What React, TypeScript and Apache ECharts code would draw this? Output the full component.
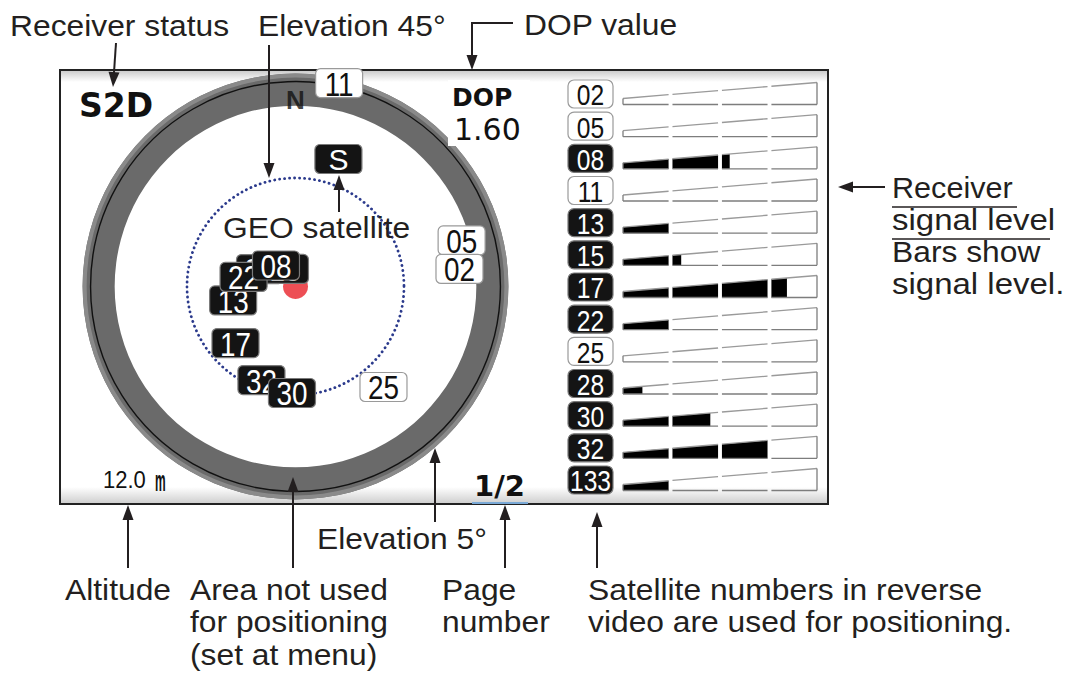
import React, { useEffect, useRef } from "react";
import * as echarts from "echarts";

// ---------- data ----------
// Sky plot: satellites drawn in painting order (later ones on top)
const skySatIds = ["13", "28", "15", "22", "08", "17", "32", "30", "11", "05", "02", "25", "S"];
const skyElevation = [63.5, 73.6, 81.5, 68.1, 78.1, 55.8, 48.7, 45.8, 3.7, 18.5, 21.6, 34.6, 34.2];
const skyAzimuth = [257.4, 296.2, 329.0, 280.4, 317.1, 226.7, 200.0, 181.9, 12.1, 74.5, 83.9, 138.8, 18.6];
const skyUsed = [true, true, true, true, true, true, true, true, false, false, false, false, true];

// Signal level panel
const signalSatIds = ["02", "05", "08", "11", "13", "15", "17", "22", "25", "28", "30", "32", "133"];
const signalLevels = [0, 0, 55, 0, 24, 30, 84.5, 24, 0, 10, 45, 75, 24];
const signalUsed = [false, false, true, false, true, true, true, true, false, true, true, true, true];
const signalSegments = [
  [0, 23.5],
  [25.5, 49],
  [51, 74.5],
  [76.5, 100],
];

// Sky plot reference elevations
const maskElevation = [15, 1.7]; // area not used for positioning (inner, outer)
const elevationCircles = [45, 5];
const ownPosition = [[90, 0]];
const northMark = [[12.6, 0]];

// Screen values
const receiverStatus = "S2D";
const dopLabel = "DOP";
const dopValue = "1.60";
const altitudeValue = "12.0";
const altitudeUnit = "m";
const pageNumber = "1/2";

// ---------- styling helpers ----------
const FONT = '"Liberation Sans", Arial, Helvetica, sans-serif';
const HEAVY = '"DejaVu Sans", "Liberation Sans", sans-serif';
const INK = "#231f20";

function arrow(x1: number, y1: number, x2: number, y2: number) {
  const dx = x2 - x1;
  const dy = y2 - y1;
  const L = Math.hypot(dx, dy);
  const ux = dx / L;
  const uy = dy / L;
  const len = 15;
  const hw = 5.5;
  const bx = x2 - ux * len;
  const by = y2 - uy * len;
  return [
    {
      type: "line",
      silent: true,
      z: 20,
      shape: { x1, y1, x2: bx + ux * 2, y2: by + uy * 2 },
      style: { stroke: INK, lineWidth: 2 },
    },
    {
      type: "polygon",
      silent: true,
      z: 20,
      shape: {
        points: [
          [x2, y2],
          [bx - uy * hw, by + ux * hw],
          [bx + uy * hw, by - ux * hw],
        ],
      },
      style: { fill: INK },
    },
  ];
}

function label(text: string, x: number, y: number, sx = 1.06, extra: any = {}) {
  return {
    type: "text",
    silent: true,
    z: 20,
    x,
    y,
    scaleX: sx,
    style: {
      text,
      fontFamily: FONT,
      fontSize: 30,
      fill: INK,
      align: "left",
      verticalAlign: "middle",
      ...extra,
    },
  };
}

function hline(x1: number, x2: number, y: number, color = INK, w = 2) {
  return {
    type: "line",
    silent: true,
    z: 20,
    shape: { x1, y1: y, x2, y2: y },
    style: { stroke: color, lineWidth: w },
  };
}

export default function App() {
  const ref = useRef<HTMLDivElement>(null);

  useEffect(() => {
    if (!ref.current) return;
    const chart = echarts.init(ref.current, undefined, { renderer: "svg" });

    const skyData = skySatIds.map((id, i) => [skyElevation[i], skyAzimuth[i], i]);
    const signalData = signalLevels.map((v, i) => [v, i]);

    const option: any = {
      animation: false,
      backgroundColor: "#ffffff",
      polar: { center: [295.5, 286.5], radius: 217 },
      angleAxis: {
        type: "value",
        min: 0,
        max: 360,
        startAngle: 90,
        clockwise: true,
        show: false,
        axisLine: { show: false },
        axisTick: { show: false },
        axisLabel: { show: false },
        splitLine: { show: false },
      },
      radiusAxis: {
        type: "value",
        min: 0,
        max: 90,
        inverse: true,
        show: false,
        axisLine: { show: false },
        axisTick: { show: false },
        axisLabel: { show: false },
        splitLine: { show: false },
      },
      grid: { left: 623, top: 77.9, width: 194, height: 418.2 },
      xAxis: { type: "value", min: 0, max: 100, show: false },
      yAxis: { type: "category", data: signalSatIds, inverse: true, show: false },
      series: [
        // gray mask ring (area not used for positioning)
        {
          type: "custom",
          coordinateSystem: "polar",
          z: 2,
          silent: true,
          data: [maskElevation],
          renderItem: (params: any, api: any) => {
            const cs = params.coordSys;
            const rOf = (el: number) => {
              const p = api.coord([el, 0]);
              return Math.hypot(p[0] - cs.cx, p[1] - cs.cy);
            };
            const rIn = rOf(api.value(0));
            const rOut = rOf(api.value(1));
            return {
              type: "group",
              children: [
                {
                  type: "ring",
                  shape: { cx: cs.cx, cy: cs.cy, r: rOut, r0: rIn },
                  style: { fill: "#6a6a6a" },
                },
                {
                  type: "ring",
                  shape: { cx: cs.cx, cy: cs.cy, r: rOut, r0: rOut - 4 },
                  style: { fill: "#8a8a8a" },
                },
              ],
            };
          },
        },
        // elevation circles (45° dotted, 5° solid)
        {
          type: "custom",
          coordinateSystem: "polar",
          z: 3,
          silent: true,
          data: elevationCircles.map((e) => [e, 0]),
          renderItem: (params: any, api: any) => {
            const cs = params.coordSys;
            const p = api.coord([api.value(0), 0]);
            const r = Math.hypot(p[0] - cs.cx, p[1] - cs.cy);
            const dotted = params.dataIndex === 0;
            return {
              type: "circle",
              shape: { cx: cs.cx, cy: cs.cy, r },
              style: dotted
                ? { fill: "none", stroke: "#2b3a8c", lineWidth: 2.8, lineDash: [0.1, 4.9], lineCap: "round" }
                : { fill: "none", stroke: "#111111", lineWidth: 1.4 },
            };
          },
        },
        // own position
        {
          type: "scatter",
          coordinateSystem: "polar",
          z: 4,
          silent: true,
          symbol: "circle",
          symbolSize: 25,
          itemStyle: { color: "#e8232a" },
          data: ownPosition,
        },
        // north mark
        {
          type: "scatter",
          coordinateSystem: "polar",
          z: 4,
          silent: true,
          symbolSize: 0,
          data: northMark,
          label: {
            show: true,
            position: "inside",
            formatter: "N",
            fontFamily: FONT,
            fontWeight: "bold",
            fontSize: 26,
            color: "#111",
          },
        },
        // satellites on the sky plot
        {
          type: "custom",
          coordinateSystem: "polar",
          z: 6,
          silent: true,
          data: skyData,
          renderItem: (params: any, api: any) => {
            const i = api.value(2);
            const p = api.coord([api.value(0), api.value(1)]);
            const used = skyUsed[i];
            const w = 47;
            const h = 29;
            return {
              type: "group",
              children: [
                {
                  type: "rect",
                  shape: { x: p[0] - w / 2, y: p[1] - h / 2, width: w, height: h, r: 5 },
                  style: {
                    fill: used ? "#141414" : "#ffffff",
                    stroke: used ? "#7a7a7a" : "#9a9a9a",
                    lineWidth: 1.2,
                  },
                },
                {
                  type: "text",
                  x: p[0],
                  y: p[1] + 1,
                  scaleX: skySatIds[i] === "S" ? 1 : 0.82,
                  style: {
                    text: skySatIds[i],
                    fontFamily: FONT,
                    fontSize: skySatIds[i] === "S" ? 30 : 34,
                    fill: used ? "#ffffff" : "#111111",
                    align: "center",
                    verticalAlign: "middle",
                  },
                },
              ],
            };
          },
        },
        // signal level bars
        {
          type: "custom",
          coordinateSystem: "cartesian2d",
          z: 3,
          silent: true,
          data: signalData,
          renderItem: (params: any, api: any) => {
            const level = api.value(0);
            const row = api.value(1);
            const base = api.coord([0, row]);
            const yb = base[1] + 10.5;
            const hOf = (u: number) => 6 + (16 * u) / 100;
            const children: any[] = [];
            signalSegments.forEach(([s0, s1]) => {
              const x0 = api.coord([s0, row])[0];
              const x1 = api.coord([s1, row])[0];
              if (level > s0) {
                const e = Math.min(level, s1);
                const xe = api.coord([e, row])[0];
                children.push({
                  type: "polygon",
                  shape: {
                    points: [
                      [x0, yb],
                      [xe, yb],
                      [xe, yb - hOf(e)],
                      [x0, yb - hOf(s0)],
                    ],
                  },
                  style: { fill: "#000000" },
                });
              }
              children.push({
                type: "line",
                shape: { x1: x0, y1: yb - hOf(s0), x2: x1, y2: yb - hOf(s1) },
                style: { stroke: "#9a9a9a", lineWidth: 1.3 },
              });
              children.push({
                type: "line",
                shape: { x1: x0, y1: yb, x2: x1, y2: yb },
                style: { stroke: "#7d7d7d", lineWidth: 1.3 },
              });
            });
            const xs = api.coord([0, row])[0];
            const xf = api.coord([100, row])[0];
            children.push({
              type: "line",
              shape: { x1: xs, y1: yb, x2: xs, y2: yb - hOf(0) },
              style: { stroke: "#7d7d7d", lineWidth: 1.3 },
            });
            children.push({
              type: "line",
              shape: { x1: xf, y1: yb, x2: xf, y2: yb - hOf(100) },
              style: { stroke: "#7d7d7d", lineWidth: 1.3 },
            });
            return { type: "group", children };
          },
        },
        // satellite number boxes of the signal panel
        {
          type: "custom",
          coordinateSystem: "cartesian2d",
          z: 4,
          silent: true,
          data: signalSatIds.map((_, i) => [0, i]),
          renderItem: (params: any, api: any) => {
            const row = api.value(1);
            const p = api.coord([0, row]);
            const used = signalUsed[row];
            const w = 45;
            const h = 28;
            const right = p[0] - 10;
            return {
              type: "group",
              children: [
                {
                  type: "rect",
                  shape: { x: right - w, y: p[1] - h / 2, width: w, height: h, r: 6 },
                  style: {
                    fill: used ? "#141414" : "#ffffff",
                    stroke: used ? "#7a7a7a" : "#9a9a9a",
                    lineWidth: 1.2,
                  },
                },
                {
                  type: "text",
                  x: right - w / 2,
                  y: p[1] + 1,
                  scaleX: 0.82,
                  style: {
                    text: signalSatIds[row],
                    fontFamily: FONT,
                    fontSize: 30,
                    fill: used ? "#ffffff" : "#111111",
                    align: "center",
                    verticalAlign: "middle",
                  },
                },
              ],
            };
          },
        },
      ],
      graphic: [
        // screen frame background and shaded bands
        {
          type: "rect",
          silent: true,
          z: 0,
          shape: { x: 60, y: 70, width: 768, height: 434 },
          style: { fill: "#ffffff" },
        },
        {
          type: "rect",
          silent: true,
          z: 0,
          shape: { x: 61, y: 71, width: 766, height: 11 },
          style: {
            fill: new echarts.graphic.LinearGradient(0, 0, 0, 1, [
              { offset: 0, color: "#cdcdcd" },
              { offset: 1, color: "#ffffff" },
            ]),
          },
        },
        {
          type: "rect",
          silent: true,
          z: 0,
          shape: { x: 61, y: 487, width: 766, height: 16 },
          style: {
            fill: new echarts.graphic.LinearGradient(0, 0, 0, 1, [
              { offset: 0, color: "#ffffff" },
              { offset: 1, color: "#d0d0d0" },
            ]),
          },
        },
        {
          type: "rect",
          silent: true,
          z: 1,
          shape: { x: 60, y: 70, width: 768, height: 434 },
          style: { fill: "none", stroke: "#222222", lineWidth: 2 },
        },
        // DOP area patch
        {
          type: "rect",
          silent: true,
          z: 10,
          shape: { x: 448, y: 80, width: 82, height: 66 },
          style: { fill: "#ffffff" },
        },
        {
          type: "text",
          silent: true,
          z: 11,
          x: 79,
          y: 105,
          style: {
            text: receiverStatus,
            fontFamily: HEAVY,
            fontWeight: "bold",
            fontSize: 33,
            fill: "#111",
            align: "left",
            verticalAlign: "middle",
          },
        },
        {
          type: "text",
          silent: true,
          z: 11,
          x: 452,
          y: 97,
          style: {
            text: dopLabel,
            fontFamily: HEAVY,
            fontWeight: "bold",
            fontSize: 25,
            fill: "#111",
            align: "left",
            verticalAlign: "middle",
          },
        },
        {
          type: "text",
          silent: true,
          z: 11,
          x: 454,
          y: 129,
          style: {
            text: dopValue,
            fontFamily: HEAVY,
            fontSize: 30,
            fill: "#111",
            align: "left",
            verticalAlign: "middle",
          },
        },
        {
          type: "text",
          silent: true,
          z: 11,
          x: 103,
          y: 480,
          scaleY: 1.05,
          style: {
            text: altitudeValue,
            fontFamily: FONT,
            fontSize: 22,
            fill: "#111",
            align: "left",
            verticalAlign: "middle",
          },
        },
        {
          type: "text",
          silent: true,
          z: 11,
          x: 155,
          y: 480,
          scaleX: 0.6,
          scaleY: 1.5,
          style: {
            text: altitudeUnit,
            fontFamily: FONT,
            fontWeight: "bold",
            fontSize: 20,
            fill: "#111",
            align: "left",
            verticalAlign: "middle",
          },
        },
        {
          type: "text",
          silent: true,
          z: 11,
          x: 474,
          y: 486,
          style: {
            text: pageNumber,
            fontFamily: HEAVY,
            fontWeight: "bold",
            fontSize: 29,
            fill: "#111",
            align: "left",
            verticalAlign: "middle",
          },
        },
        hline(472, 528, 503, "#7aa9d6", 2),
        // annotations
        label("Receiver status", 10, 25.5),
        label("Elevation 45\u00b0", 258, 25.5),
        label("DOP value", 524, 25),
        label("GEO satellite", 223, 227.5),
        label("Receiver", 892, 188, 1.02),
        hline(892, 1017, 207, INK, 1.6),
        label("signal level", 892, 220, 1.1),
        hline(892, 1050, 239, INK, 1.6),
        label("Bars show", 892, 252, 1.06),
        label("signal level.", 892, 284, 1.1),
        label("Elevation 5\u00b0", 317, 538.5),
        label("Altitude", 65, 589.5),
        label("Area not used", 190, 589.5),
        label("for positioning", 190, 622),
        label("(set at menu)", 190, 654.5),
        label("Page", 442, 589.5),
        label("number", 442, 622),
        label("Satellite numbers in reverse", 588, 589.5),
        label("video are used for positioning.", 588, 622),
        // arrows
        ...arrow(116, 43, 113, 87),
        ...arrow(269, 45, 269, 178),
        {
          type: "polyline",
          silent: true,
          z: 20,
          shape: {
            points: [
              [513, 23],
              [472, 23],
              [472, 58],
            ],
          },
          style: { stroke: INK, lineWidth: 2, fill: "none" },
        },
        ...arrow(472, 50, 472, 70),
        ...arrow(339, 212, 339, 175),
        ...arrow(885, 187, 838, 187),
        ...arrow(128, 568, 128, 505),
        ...arrow(293, 568, 293, 477),
        ...arrow(435, 522, 435, 448),
        ...arrow(505, 568, 505, 505),
        ...arrow(597, 568, 597, 512),
      ],
    };

    chart.setOption(option);
    return () => {
      chart.dispose();
    };
  }, []);

  return (
    <div
      ref={ref}
      style={{ position: "fixed", left: 0, top: 0, width: 1067, height: 679, background: "#fff" }}
    />
  );
}
